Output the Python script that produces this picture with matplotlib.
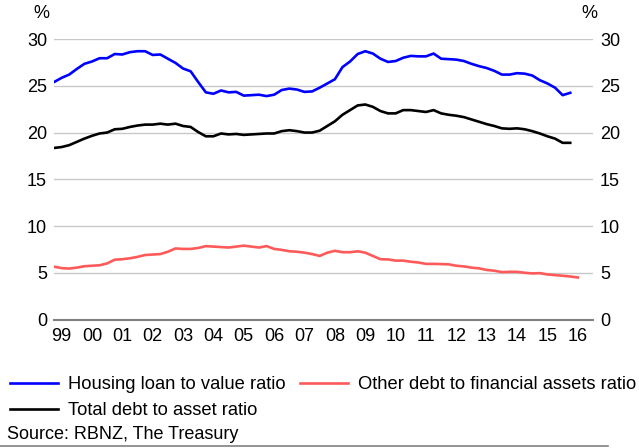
import numpy as np
import matplotlib.pyplot as plt

plt.rcParams['font.family'] = ['Liberation Sans', 'DejaVu Sans']

# Quarterly data, starting 1998 Q4
start = 1998.75

housing_lvr = [25.4, 25.85, 26.2, 26.8, 27.35, 27.6, 27.95, 27.95, 28.4, 28.35,
               28.6, 28.7, 28.7, 28.3, 28.35, 27.9, 27.45, 26.85, 26.55, 25.4,
               24.3, 24.15, 24.5, 24.3, 24.35, 23.95, 24.0, 24.05, 23.9, 24.05,
               24.55, 24.7, 24.6, 24.35, 24.4, 24.8, 25.25, 25.7, 27.0, 27.6,
               28.4, 28.7, 28.45, 27.9, 27.55, 27.65, 28.0, 28.2, 28.15, 28.15,
               28.45, 27.9, 27.85, 27.8, 27.65, 27.35, 27.1, 26.9, 26.6, 26.2,
               26.2, 26.35, 26.3, 26.1, 25.6, 25.25, 24.8, 24.0, 24.25]

total_debt = [18.35, 18.45, 18.65, 19.0, 19.35, 19.65, 19.9, 20.0, 20.35, 20.4,
              20.6, 20.75, 20.85, 20.85, 20.95, 20.85, 20.95, 20.7, 20.6, 20.05,
              19.6, 19.6, 19.9, 19.8, 19.85, 19.75, 19.8, 19.85, 19.9, 19.9,
              20.15, 20.25, 20.15, 20.0, 20.0, 20.2, 20.7, 21.2, 21.9, 22.4,
              22.9, 23.0, 22.75, 22.3, 22.05, 22.05, 22.4, 22.4, 22.3, 22.2,
              22.4, 22.05, 21.9, 21.8, 21.65, 21.4, 21.15, 20.9, 20.7, 20.45,
              20.4, 20.45, 20.35, 20.15, 19.9, 19.6, 19.35, 18.9, 18.9]

other_debt = [5.65, 5.5, 5.45, 5.55, 5.7, 5.75, 5.8, 6.0, 6.4, 6.45,
              6.55, 6.7, 6.9, 6.95, 7.0, 7.25, 7.6, 7.55, 7.55, 7.65,
              7.85, 7.8, 7.75, 7.7, 7.8, 7.9, 7.8, 7.7, 7.85, 7.55,
              7.45, 7.3, 7.25, 7.15, 7.0, 6.8, 7.15, 7.35, 7.2, 7.2,
              7.3, 7.15, 6.8, 6.45, 6.43, 6.3, 6.3, 6.18, 6.1, 5.95,
              5.95, 5.93, 5.9, 5.75, 5.68, 5.55, 5.47, 5.3, 5.22, 5.07,
              5.1, 5.1, 5.0, 4.93, 4.96, 4.82, 4.75, 4.68, 4.6, 4.5]

years = list(range(1999, 2017))
year_labels = [str(y)[2:] for y in years]
y_ticks = [0, 5, 10, 15, 20, 25, 30]


def quarters(values):
    return start + np.arange(len(values)) / 4


fig = plt.figure(figsize=(6.39, 4.48), dpi=100)
ax = fig.add_axes([0.0845, 0.2868, 0.8435, 0.626])

for yv in y_ticks[1:]:
    ax.axhline(yv, color="#c8c8c8", lw=1.0, zorder=1)

l1, = ax.plot(quarters(housing_lvr), housing_lvr, color="#0000ff", lw=1.9,
              label="Housing loan to value ratio", zorder=3)
l2, = ax.plot(quarters(total_debt), total_debt, color="#000000", lw=1.9,
              label="Total debt to asset ratio", zorder=3)
l3, = ax.plot(quarters(other_debt), other_debt, color="#ff5a5a", lw=1.9,
              label="Other debt to financial assets ratio", zorder=3)

ax.set_xlim(start, 2016.5)
ax.set_ylim(0, 30)
ax.set_xticks(years)
ax.set_xticklabels(year_labels)
ax.set_yticks(y_ticks)
ax.tick_params(axis="both", length=0, labelsize=13, colors="#000000")
ax.tick_params(axis="y", pad=5, labelright=True, right=False)
ax.tick_params(axis="x", pad=6)

for side in ["top", "left", "right"]:
    ax.spines[side].set_visible(False)
ax.spines["bottom"].set_color("#808080")
ax.spines["bottom"].set_linewidth(1.5)
ax.spines["bottom"].set_zorder(4)

fig.text(41 / 639, 1 - 14 / 448, "%", fontsize=13, ha="center", va="center")
fig.text(589 / 639, 1 - 14 / 448, "%", fontsize=13, ha="center", va="center")

fig.legend(handles=[l1, l2, l3], ncol=2, frameon=False, fontsize=13.2,
           loc="upper left", bbox_to_anchor=(10 / 639, 1 - 376 / 448),
           handlelength=2.6, handletextpad=0.55, columnspacing=0.8,
           labelspacing=0.5, borderaxespad=0, borderpad=0)

fig.text(7 / 639, 1 - 434 / 448, "Source: RBNZ, The Treasury", fontsize=13,
         ha="left", va="center")
fig.add_artist(plt.Line2D([0, 608 / 639], [1 - 446 / 448] * 2,
                          color="#808080", lw=1.2, transform=fig.transFigure))

fig.savefig("out.png", dpi=100)
